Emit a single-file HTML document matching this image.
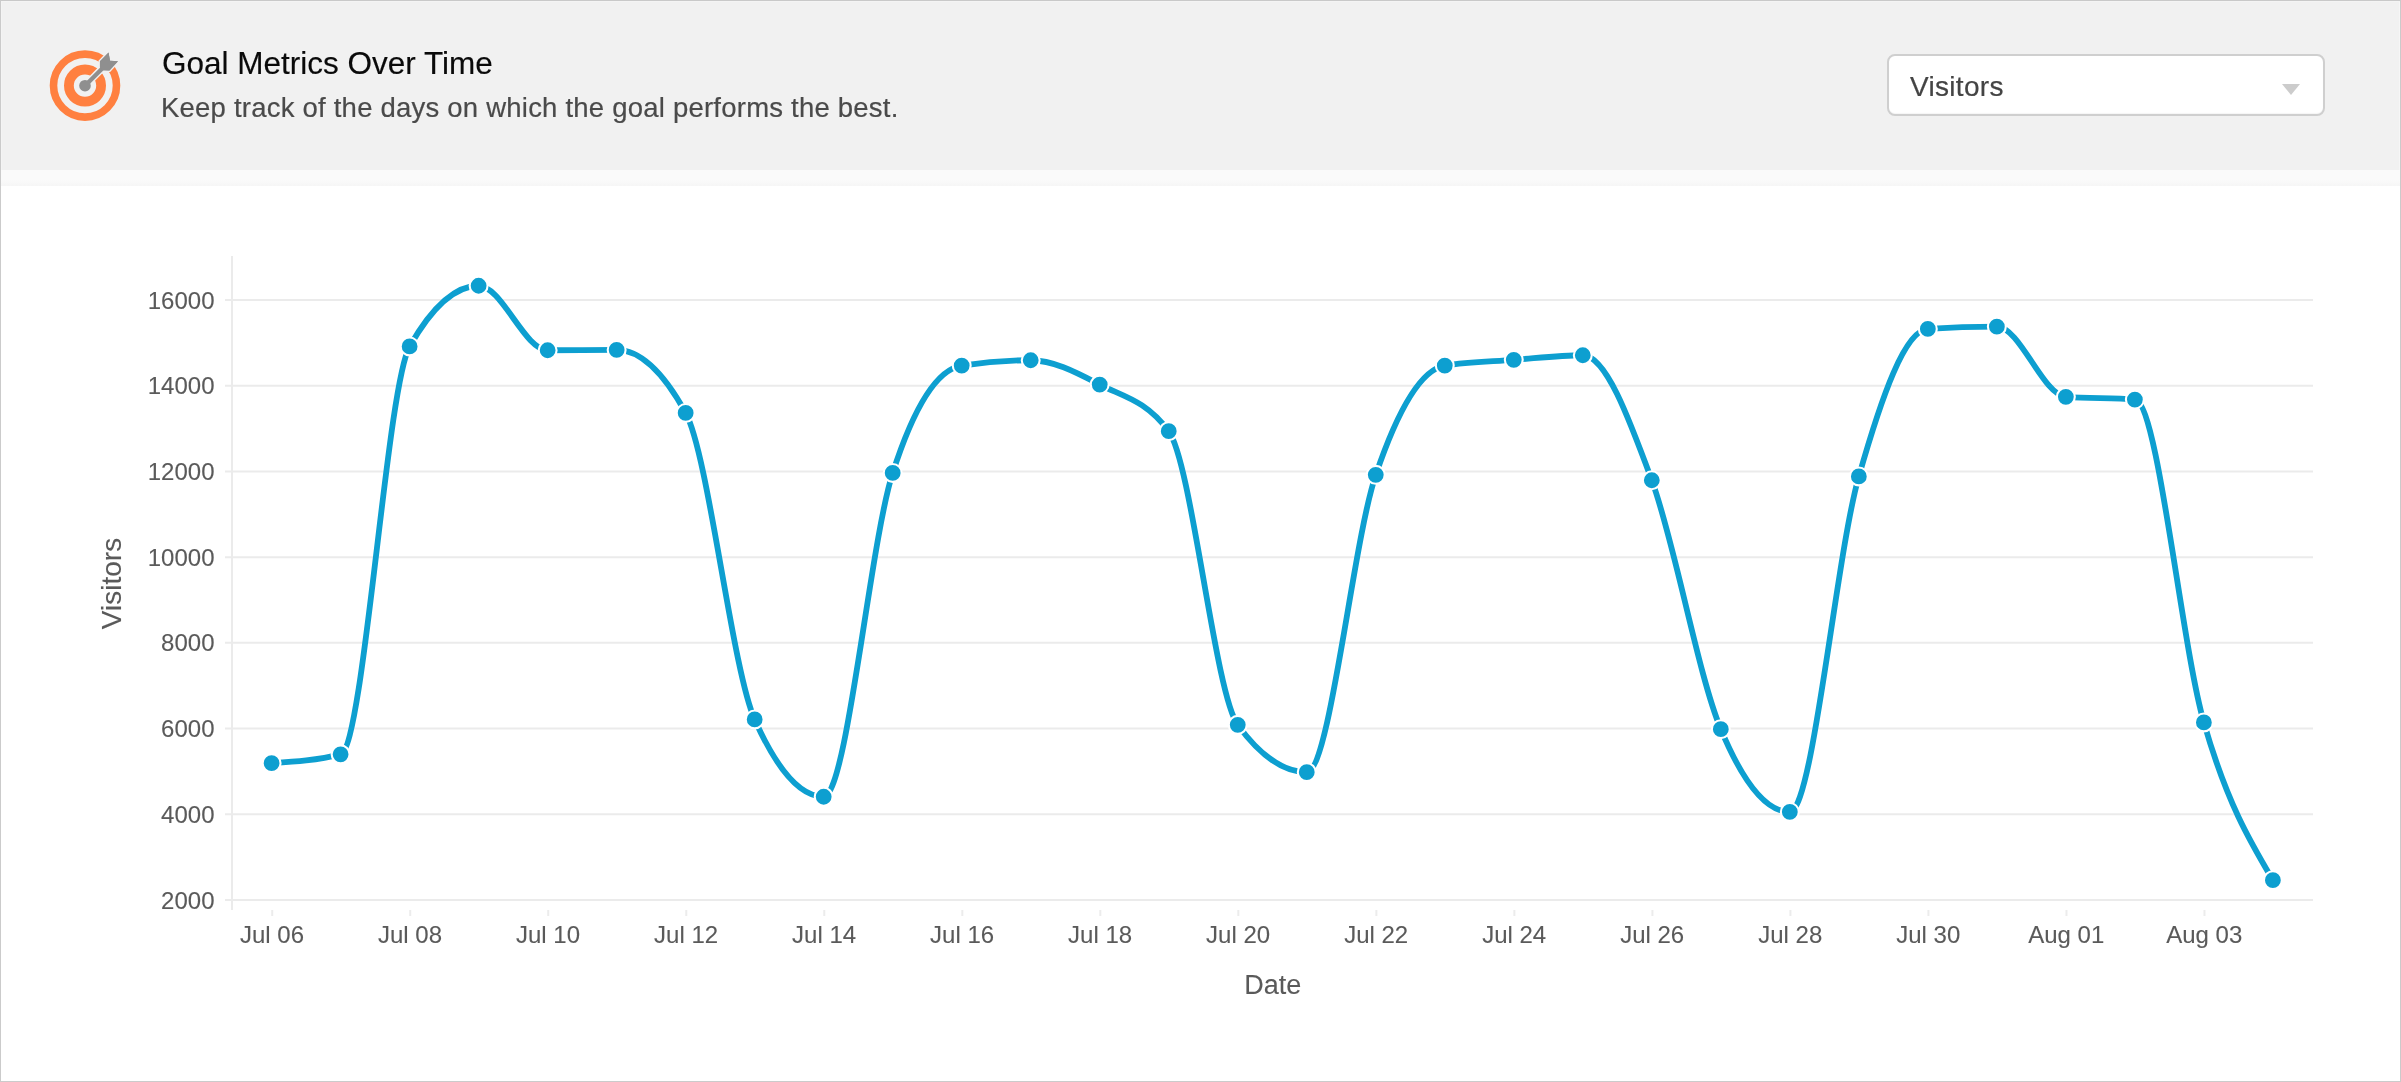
<!DOCTYPE html>
<html><head><meta charset="utf-8"><title>Goal Metrics Over Time</title>
<style>
html,body{margin:0;padding:0;}
body{width:2401px;height:1082px;overflow:hidden;background:#fff;font-family:"Liberation Sans",sans-serif;position:relative;}
.card{position:absolute;left:0;top:0;width:2401px;height:1082px;box-sizing:border-box;border:1px solid #cbcbcb;border-top-color:#c9c9c9;background:#fff;}
.head{position:absolute;left:1px;top:1px;width:2399px;height:169px;background:#f1f1f1;box-shadow:inset 1px 1px 0 #f4f4f4,inset -1px 0 0 #f6f6f6;}
.strip{position:absolute;left:1px;top:170px;width:2399px;height:16px;background:linear-gradient(#fafafa 0%,#fafafa 60%,#f6f6f6 100%);}
.title{position:absolute;left:161.6px;top:44px;font-size:31.5px;line-height:38px;color:#0a0a0a;white-space:nowrap;-webkit-text-stroke:0.15px #0a0a0a;}
.sub{position:absolute;left:161.4px;top:92.3px;font-size:27.5px;letter-spacing:0.22px;line-height:32px;color:#4a4a4a;white-space:nowrap;-webkit-text-stroke:0.2px #4a4a4a;}
.sel{position:absolute;left:1887px;top:54px;width:438px;height:62px;box-sizing:border-box;border:2px solid #cfcfcf;border-radius:8px;background:#fff;box-shadow:inset 0 -1px 1px rgba(0,0,0,.04);}
.sel span{position:absolute;left:21px;top:15px;font-size:28px;letter-spacing:0.3px;line-height:32px;color:#444;white-space:nowrap;-webkit-text-stroke:0.2px #444;}
.sel i{position:absolute;left:392.8px;top:28px;width:0;height:0;border-left:9.7px solid transparent;border-right:9.7px solid transparent;border-top:11.4px solid #cccccc;}
svg{position:absolute;left:0;top:0;will-change:transform;}
.title,.sub,.sel{will-change:transform;}
svg text{font-family:"Liberation Sans",sans-serif;stroke:#5a5a5a;stroke-width:0.1px;}
</style></head>
<body>
<div class="card"></div>
<div class="head"></div>
<div class="strip"></div>
<svg width="2401" height="1082" viewBox="0 0 2401 1082">
 <g id="icon">
  <circle cx="85" cy="85.6" r="31.5" fill="none" stroke="#ff8040" stroke-width="7.6"/>
  <circle cx="85" cy="85.6" r="16.1" fill="none" stroke="#ff8040" stroke-width="9.8"/>
  <path d="M85 85.7 L99.95 67.73 L99.95 61.35 L108.55 52.48 L110.04 60.8 L117.98 61.35 L109.49 70.39 L103.28 70.23 Z" fill="#8f8f8f" stroke="#f1f1f1" stroke-width="3" stroke-linejoin="miter" paint-order="stroke"/>
  <line x1="85" y1="85.7" x2="101.6" y2="69" stroke="#f1f1f1" stroke-width="7.2"/>
  <line x1="85" y1="85.7" x2="102.5" y2="68.2" stroke="#8f8f8f" stroke-width="4.2"/>
  <path d="M99.95 67.73 L99.95 61.35 L108.55 52.48 L110.04 60.8 L117.98 61.35 L109.49 70.39 L103.28 70.23 Z" fill="#8f8f8f"/>
  <circle cx="85" cy="85.7" r="5.8" fill="#8f8f8f"/>
 </g>
 <g stroke="#ebebeb" stroke-width="2" fill="none">
  <line x1="225" x2="2313" y1="900.00" y2="900.00"/><line x1="225" x2="2313" y1="814.29" y2="814.29"/><line x1="225" x2="2313" y1="728.57" y2="728.57"/><line x1="225" x2="2313" y1="642.86" y2="642.86"/><line x1="225" x2="2313" y1="557.14" y2="557.14"/><line x1="225" x2="2313" y1="471.43" y2="471.43"/><line x1="225" x2="2313" y1="385.71" y2="385.71"/><line x1="225" x2="2313" y1="300.00" y2="300.00"/>
  <line x1="232" x2="232" y1="256" y2="910"/>
 </g>
 <g stroke="#ececec" stroke-width="2" fill="none"><line x1="272.20" x2="272.20" y1="910" y2="916"/><line x1="410.22" x2="410.22" y1="910" y2="916"/><line x1="548.24" x2="548.24" y1="910" y2="916"/><line x1="686.26" x2="686.26" y1="910" y2="916"/><line x1="824.28" x2="824.28" y1="910" y2="916"/><line x1="962.30" x2="962.30" y1="910" y2="916"/><line x1="1100.32" x2="1100.32" y1="910" y2="916"/><line x1="1238.34" x2="1238.34" y1="910" y2="916"/><line x1="1376.36" x2="1376.36" y1="910" y2="916"/><line x1="1514.38" x2="1514.38" y1="910" y2="916"/><line x1="1652.40" x2="1652.40" y1="910" y2="916"/><line x1="1790.42" x2="1790.42" y1="910" y2="916"/><line x1="1928.44" x2="1928.44" y1="910" y2="916"/><line x1="2066.46" x2="2066.46" y1="910" y2="916"/><line x1="2204.48" x2="2204.48" y1="910" y2="916"/></g>
 <g font-size="24" fill="#5a5a5a"><text x="214.5" y="908.50" text-anchor="end">2000</text><text x="214.5" y="822.79" text-anchor="end">4000</text><text x="214.5" y="737.07" text-anchor="end">6000</text><text x="214.5" y="651.36" text-anchor="end">8000</text><text x="214.5" y="565.64" text-anchor="end">10000</text><text x="214.5" y="479.93" text-anchor="end">12000</text><text x="214.5" y="394.21" text-anchor="end">14000</text><text x="214.5" y="308.50" text-anchor="end">16000</text><text x="272.00" y="943.2" text-anchor="middle">Jul 06</text><text x="410.02" y="943.2" text-anchor="middle">Jul 08</text><text x="548.04" y="943.2" text-anchor="middle">Jul 10</text><text x="686.06" y="943.2" text-anchor="middle">Jul 12</text><text x="824.08" y="943.2" text-anchor="middle">Jul 14</text><text x="962.10" y="943.2" text-anchor="middle">Jul 16</text><text x="1100.12" y="943.2" text-anchor="middle">Jul 18</text><text x="1238.14" y="943.2" text-anchor="middle">Jul 20</text><text x="1376.16" y="943.2" text-anchor="middle">Jul 22</text><text x="1514.18" y="943.2" text-anchor="middle">Jul 24</text><text x="1652.20" y="943.2" text-anchor="middle">Jul 26</text><text x="1790.22" y="943.2" text-anchor="middle">Jul 28</text><text x="1928.24" y="943.2" text-anchor="middle">Jul 30</text><text x="2066.26" y="943.2" text-anchor="middle">Aug 01</text><text x="2204.28" y="943.2" text-anchor="middle">Aug 03</text></g>
 <text x="1272.8" y="993.8" text-anchor="middle" font-size="27" fill="#5a5a5a">Date</text>
 <text transform="translate(121.3 583.5) rotate(-90)" text-anchor="middle" font-size="28" fill="#5a5a5a">Visitors</text>
 <path d="M271.60 763.15C294.60 761.68 317.61 760.22 340.61 754.35C363.61 748.48 386.62 386.92 409.62 346.45C432.62 305.98 455.63 285.75 478.63 285.75C501.63 285.75 524.64 350.25 547.64 350.25C570.64 350.25 593.65 349.95 616.65 349.95C639.65 349.95 662.66 370.95 685.66 412.95C708.66 454.95 731.67 667.92 754.67 719.45C777.67 770.98 800.68 796.75 823.68 796.75C846.68 796.75 869.69 544.55 892.69 472.95C915.69 401.35 938.70 369.08 961.70 365.55C984.70 362.02 1007.71 360.25 1030.71 360.25C1053.71 360.25 1076.72 372.73 1099.72 384.55C1122.72 396.37 1145.73 400.08 1168.73 431.15C1191.73 462.22 1214.74 693.32 1237.74 724.85C1260.74 756.38 1283.75 772.15 1306.75 772.15C1329.75 772.15 1352.76 542.62 1375.76 474.85C1398.76 407.08 1421.77 369.35 1444.77 365.55C1467.77 361.75 1490.78 361.57 1513.78 359.85C1536.78 358.13 1559.79 355.25 1582.79 355.25C1605.79 355.25 1628.80 417.93 1651.80 480.25C1674.80 542.57 1697.81 673.95 1720.81 729.15C1743.81 784.35 1766.82 811.95 1789.82 811.95C1812.82 811.95 1835.83 556.95 1858.83 476.45C1881.83 395.95 1904.84 330.48 1927.84 328.95C1950.84 327.42 1973.85 326.65 1996.85 326.65C2019.85 326.65 2042.86 395.05 2065.86 396.85C2088.86 398.65 2111.87 397.75 2134.87 399.55C2157.87 401.35 2180.88 642.35 2203.88 722.45C2226.88 802.55 2249.89 841.35 2272.89 880.15" fill="none" stroke="#0d9fd0" stroke-width="5.8" stroke-linecap="round" stroke-linejoin="round"/>
 <g fill="#0d9fd0" stroke="#fff" stroke-width="2.1"><circle cx="271.60" cy="763.15" r="8.950000000000001"/><circle cx="340.61" cy="754.35" r="8.950000000000001"/><circle cx="409.62" cy="346.45" r="8.950000000000001"/><circle cx="478.63" cy="285.75" r="8.950000000000001"/><circle cx="547.64" cy="350.25" r="8.950000000000001"/><circle cx="616.65" cy="349.95" r="8.950000000000001"/><circle cx="685.66" cy="412.95" r="8.950000000000001"/><circle cx="754.67" cy="719.45" r="8.950000000000001"/><circle cx="823.68" cy="796.75" r="8.950000000000001"/><circle cx="892.69" cy="472.95" r="8.950000000000001"/><circle cx="961.70" cy="365.55" r="8.950000000000001"/><circle cx="1030.71" cy="360.25" r="8.950000000000001"/><circle cx="1099.72" cy="384.55" r="8.950000000000001"/><circle cx="1168.73" cy="431.15" r="8.950000000000001"/><circle cx="1237.74" cy="724.85" r="8.950000000000001"/><circle cx="1306.75" cy="772.15" r="8.950000000000001"/><circle cx="1375.76" cy="474.85" r="8.950000000000001"/><circle cx="1444.77" cy="365.55" r="8.950000000000001"/><circle cx="1513.78" cy="359.85" r="8.950000000000001"/><circle cx="1582.79" cy="355.25" r="8.950000000000001"/><circle cx="1651.80" cy="480.25" r="8.950000000000001"/><circle cx="1720.81" cy="729.15" r="8.950000000000001"/><circle cx="1789.82" cy="811.95" r="8.950000000000001"/><circle cx="1858.83" cy="476.45" r="8.950000000000001"/><circle cx="1927.84" cy="328.95" r="8.950000000000001"/><circle cx="1996.85" cy="326.65" r="8.950000000000001"/><circle cx="2065.86" cy="396.85" r="8.950000000000001"/><circle cx="2134.87" cy="399.55" r="8.950000000000001"/><circle cx="2203.88" cy="722.45" r="8.950000000000001"/><circle cx="2272.89" cy="880.15" r="8.950000000000001"/></g>
</svg>
<div class="title">Goal Metrics Over Time</div>
<div class="sub">Keep track of the days on which the goal performs the best.</div>
<div class="sel"><span>Visitors</span><i></i></div>
</body></html>
